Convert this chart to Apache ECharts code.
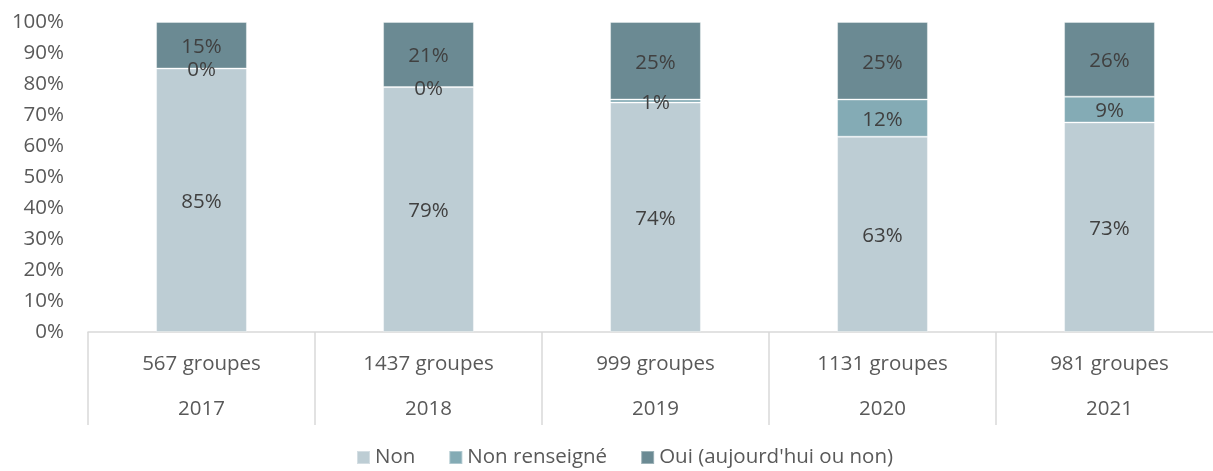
<!DOCTYPE html>
<html>
<head>
<meta charset="utf-8">
<script src="https://cdn.jsdelivr.net/npm/echarts@6/dist/echarts.min.js"></script>
<style>
  html, body { margin: 0; padding: 0; background: #fff; }
  #chart { width: 1213px; height: 471px; }
</style>
</head>
<body>
<div id="chart"></div>
<script>
// valeurs (Excel normalise chaque barre à 100 %)
const groupes = ['567 groupes', '1437 groupes', '999 groupes', '1131 groupes', '981 groupes'];
const annees = ['2017', '2018', '2019', '2020', '2021'];
const nonVals = [85, 79, 74, 63, 73];
const nonRensVals = [0, 0, 1, 12, 9];
const ouiVals = [15, 21, 25, 25, 26];
const yTicks = [0, 10, 20, 30, 40, 50, 60, 70, 80, 90, 100];

const totals = nonVals.map((v, i) => v + nonRensVals[i] + ouiVals[i]);
const categories = groupes.map((g, i) => g + '\n' + annees[i]);

function shares(vals) {
    return vals.map((v, i) => ({ value: v / totals[i] * 100, raw: v }));
}

const font = "'Open Sans', 'Noto Sans', sans-serif";

function makeSeries(name, vals, color) {
    return {
        name: name,
        type: 'bar',
        stack: 'total',
        barCategoryGap: '60%',
        itemStyle: {
            color: color,
            borderColor: 'rgba(255,255,255,0.35)',
            borderWidth: 1
        },
        label: {
            show: true,
            position: 'inside',
            offset: [0, 2],
            color: '#404040',
            fontFamily: font,
            fontSize: 20.5,
            formatter: p => p.data.raw + '%'
        },
        data: shares(vals)
    };
}

const chart = echarts.init(document.getElementById('chart'));

chart.setOption({
    animation: false,
    textStyle: { fontFamily: font },
    grid: {
        left: 88,
        right: -10,
        top: 22,
        bottom: 139,
        containLabel: false,
        outerBoundsMode: 'none'
    },
    legend: {
        top: 447,
        left: 356,
        padding: 0,
        icon: 'rect',
        itemWidth: 13,
        itemHeight: 13,
        itemGap: 33,
        textStyle: { color: '#595959', fontSize: 20.5, fontFamily: font },
        data: ['Non', 'Non renseigné', "Oui (aujourd'hui ou non)"]
    },
    xAxis: {
        type: 'category',
        data: categories,
        axisLine: { lineStyle: { color: '#D9D9D9', width: 1.5 } },
        axisTick: {
            show: true,
            interval: 0,
            length: 93,
            lineStyle: { color: '#D9D9D9', width: 1.5 }
        },
        axisLabel: {
            interval: 0,
            margin: 10,
            color: '#595959',
            fontSize: 20.5,
            lineHeight: 45,
            fontFamily: font
        }
    },
    yAxis: {
        type: 'value',
        min: yTicks[0],
        max: yTicks[yTicks.length - 1],
        interval: 10,
        axisLine: { show: false },
        axisTick: { show: false },
        splitLine: { show: false },
        axisLabel: {
            margin: 24,
            color: '#595959',
            fontSize: 20.5,
            fontFamily: font,
            formatter: '{value}%'
        }
    },
    series: [
        makeSeries('Non', nonVals, '#BDCDD4'),
        makeSeries('Non renseigné', nonRensVals, '#84ABB5'),
        makeSeries("Oui (aujourd'hui ou non)", ouiVals, '#6B8A93')
    ]
});
</script>
</body>
</html>
